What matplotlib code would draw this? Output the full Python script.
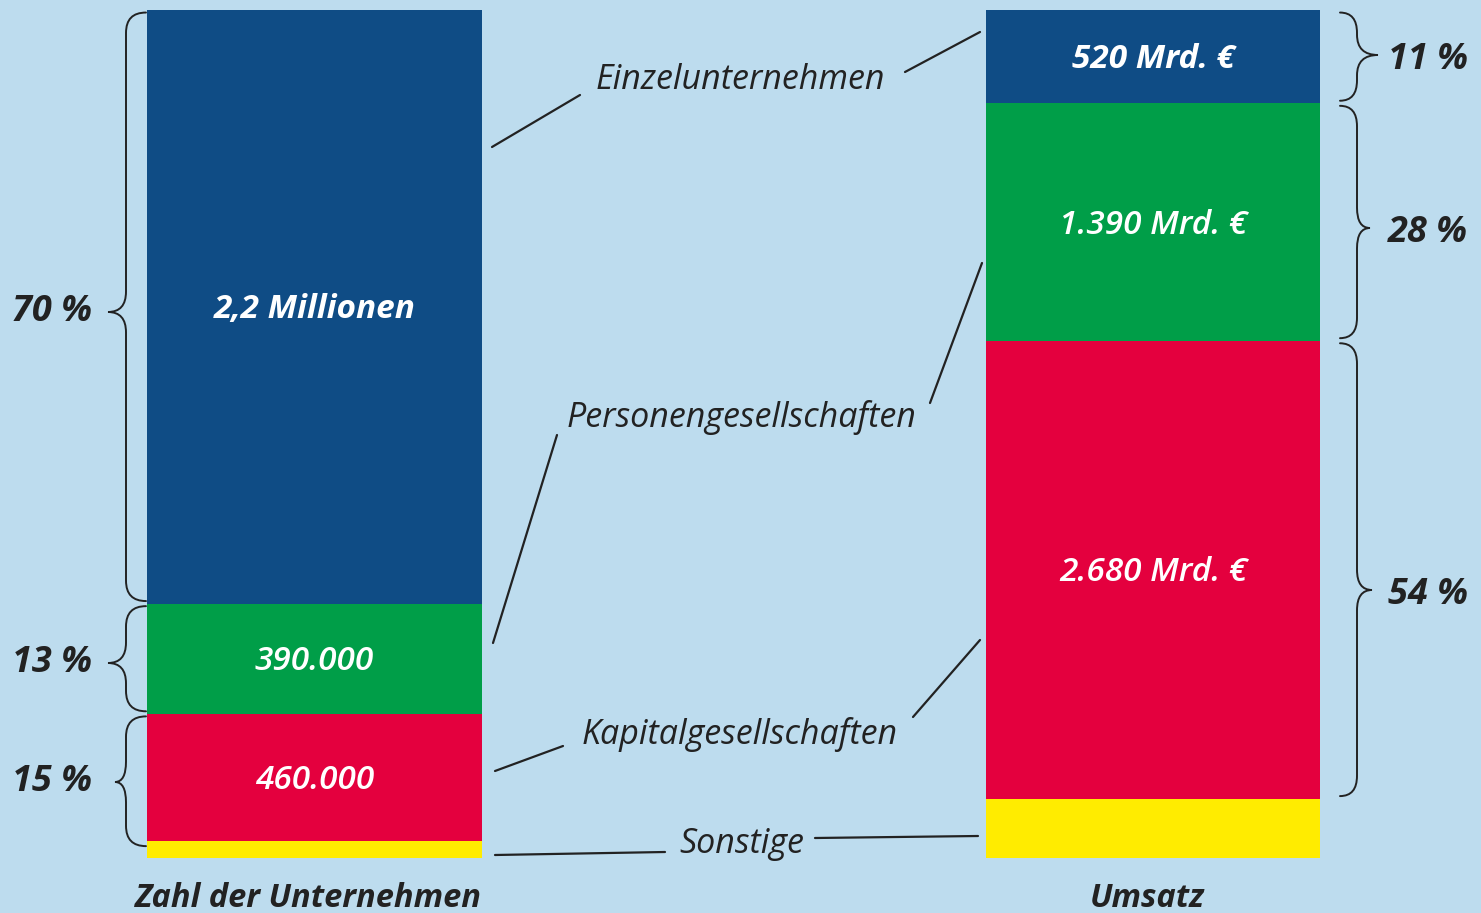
import matplotlib
matplotlib.use("Agg")
import matplotlib.pyplot as plt
from matplotlib.path import Path
import matplotlib.patches as mpatches

plt.rcParams['font.family'] = ['Open Sans', 'DejaVu Sans']

#############################################################
# Data
#############################################################

categories = ["Einzelunternehmen", "Personengesellschaften", "Kapitalgesellschaften", "Sonstige"]
colors = ["#0f4c85", "#009e48", "#e4003e", "#ffec00"]

# share of companies (left) and of turnover (right), in percent
share_count = [70, 13, 15, 2]
share_sales = [11, 28, 54, 7]

count_labels = ["2,2 Millionen", "390.000", "460.000", ""]
sales_labels = ["520 Mrd. €", "1.390 Mrd. €", "2.680 Mrd. €", ""]
count_pct_labels = ["70 %", "13 %", "15 %"]
sales_pct_labels = ["11 %", "28 %", "54 %"]
bar_titles = ["Zahl der Unternehmen", "Umsatz"]

#############################################################
# Layout (pixels of a 1481x913 picture)
#############################################################

W, H = 1481, 913
top_px, bottom_px = 10, 858
scale = (bottom_px - top_px) / 100.0
bg = "#bddcee"
ink = "#222222"

def py(pix):
    # pixel row -> percent axis unit
    return (pix - top_px) / scale

fig = plt.figure(figsize=(W / 100, H / 100), dpi=100)
fig.patch.set_facecolor(bg)
ax = fig.add_axes([0, 0, 1, 1])
ax.set_facecolor(bg)
ax.set_xlim(0, W)
ax.set_ylim(py(H), py(0))
ax.axis("off")

bar_x = [314.5, 1153]
bar_w = [335, 334]
text_drop = py(13) - py(10)   # small downward nudge for text centres

def brace(x_end, x_spine, x_tip, y0, y1, ym):
    r = min(2.4, (y1 - y0) / 4.0)
    verts = [(x_end, y0), (x_spine, y0), (x_spine, y0 + r),
             (x_spine, ym - r), (x_spine, ym), (x_tip, ym),
             (x_spine, ym), (x_spine, ym + r),
             (x_spine, y1 - r), (x_spine, y1), (x_end, y1)]
    codes = [Path.MOVETO, Path.CURVE3, Path.CURVE3,
             Path.LINETO, Path.CURVE3, Path.CURVE3,
             Path.CURVE3, Path.CURVE3,
             Path.LINETO, Path.CURVE3, Path.CURVE3]
    ax.add_patch(mpatches.PathPatch(Path(verts, codes), fill=False,
                                    edgecolor=ink, lw=1.4, capstyle='round'))

def draw_bar(i, shares, labels, weights):
    bottom = 0
    for k in range(len(shares)):
        ax.bar(bar_x[i], shares[k], width=bar_w[i], bottom=bottom,
               color=colors[k], linewidth=0)
        if labels[k]:
            ax.text(bar_x[i], bottom + shares[k] / 2 + text_drop, labels[k], color="white",
                    fontsize=24, fontstyle="italic", fontweight=weights[k],
                    ha="center", va="center")
        bottom += shares[k]

draw_bar(0, share_count, count_labels, ["bold", "semibold", "semibold", "normal"])
draw_bar(1, share_sales, sales_labels, ["bold", "semibold", "semibold", "normal"])

# braces + percent labels, left bar
bottom = 0
tips_left = [108, 108, 115]
mids_left = [py(312), py(663), py(782)]
for k in range(3):
    y0 = bottom + 0.3
    y1 = bottom + share_count[k] - 0.3
    if k == 2:
        y1 = bottom + share_count[k] + 0.6
    brace(146, 126, tips_left[k], y0, y1, mids_left[k])
    ax.text(52, mids_left[k], count_pct_labels[k], color=ink, fontsize=26,
            fontstyle="italic", fontweight="bold", ha="center", va="center")
    bottom += share_count[k]

# braces + percent labels, right bar
bottom = 0
mids_right = [py(55), py(228), py(590)]
tips_right = [1378, 1370, 1372]
for k in range(3):
    y0 = bottom + 0.3
    y1 = bottom + share_sales[k] - 0.3
    brace(1340, 1357, tips_right[k], y0, y1, mids_right[k])
    ax.text(1428, mids_right[k] + 0.6, sales_pct_labels[k], color=ink, fontsize=26,
            fontstyle="italic", fontweight="bold", ha="center", va="center")
    bottom += share_sales[k]

# category names with leader lines
name_pos = [(740, 80), (742, 417), (740, 734), (742, 844)]
leaders = [
    [((492, 147), (580, 95)), ((905, 72), (980, 32))],
    [((493, 643), (557, 435)), ((930, 403), (982, 263))],
    [((495, 771), (563, 746)), ((913, 717), (980, 640))],
    [((495, 855), (665, 852)), ((815, 838), (978, 836))],
]
for k in range(len(categories)):
    ax.text(name_pos[k][0], py(name_pos[k][1]), categories[k], color=ink, fontsize=24.5,
            fontstyle="italic", ha="center", va="center")
    for (a, b) in leaders[k]:
        ax.plot([a[0], b[0]], [py(a[1]), py(b[1])], color=ink, lw=1.6,
                solid_capstyle='round')

# bar titles
for i in range(2):
    ax.text(bar_x[i] - 6, py(898), bar_titles[i], color=ink, fontsize=23.5,
            fontstyle="italic", fontweight="bold", ha="center", va="center")

fig.savefig("out.png", dpi=100, facecolor=bg)
